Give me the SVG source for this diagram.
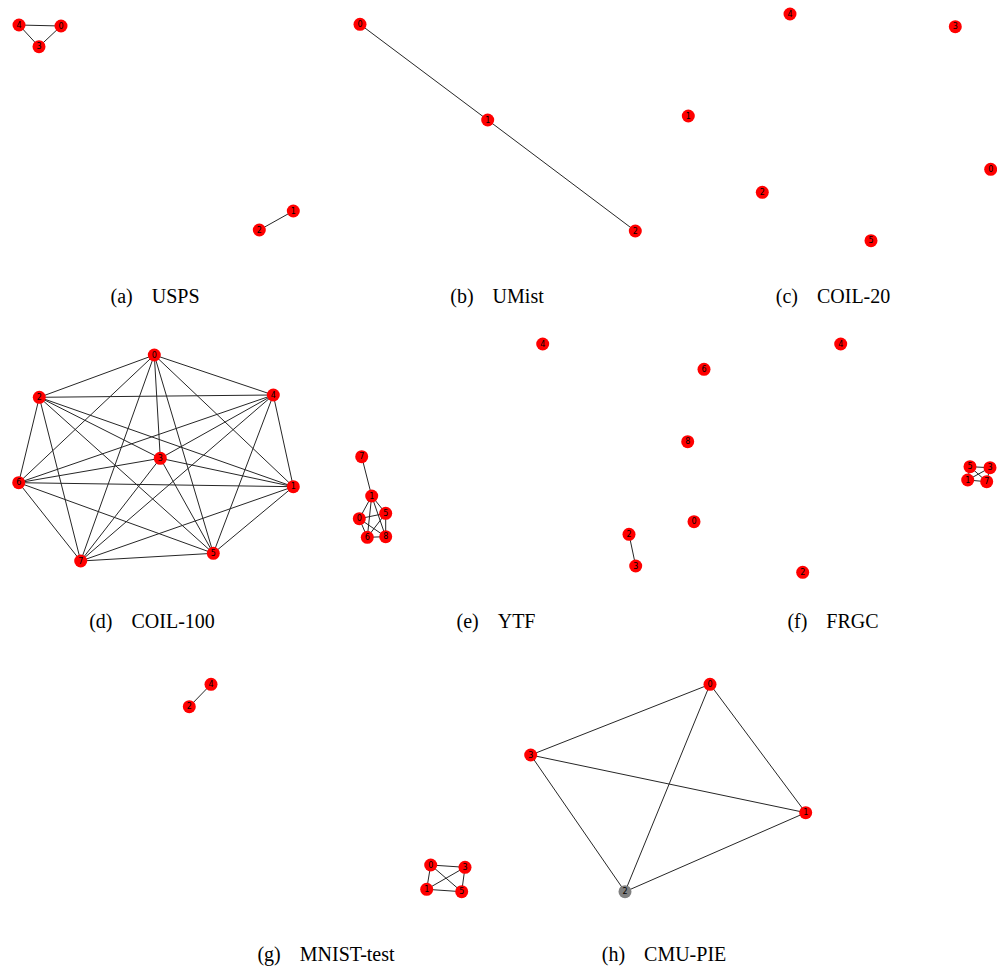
<svg xmlns="http://www.w3.org/2000/svg" width="997" height="969" viewBox="0 0 997 969">
  <style>
    .e { stroke: #262626; stroke-width: 1; fill: none; }
    .n circle { fill: #ff0000; }
    .n.g circle { fill: #808080; }
    .n text { font-family: "DejaVu Sans", sans-serif; font-size: 8px; fill: #000; text-anchor: middle; dominant-baseline: central; }
    .cap { font-family: "Liberation Serif", serif; font-size: 20px; fill: #000; text-anchor: middle; }
  </style>
  <rect width="997" height="969" fill="#fff"/>

  <!-- connectors -->
  <g id="connectors">
    <!-- (a) USPS -->
    <line class="e" x1="19" y1="25" x2="61" y2="26"/>
    <line class="e" x1="19" y1="25" x2="39" y2="46.7"/>
    <line class="e" x1="61" y1="26" x2="39" y2="46.7"/>
    <line class="e" x1="293.3" y1="211" x2="259.3" y2="230"/>
    <!-- (b) UMist -->
    <line class="e" x1="360" y1="24.3" x2="487.7" y2="120"/>
    <line class="e" x1="487.7" y1="120" x2="635.3" y2="231"/>
    <!-- (d) COIL-100: complete graph on 8 nodes -->
    <g id="coil100-edges">
      <line class="e" x1="154.3" y1="355" x2="39.3" y2="397.3"/>
      <line class="e" x1="154.3" y1="355" x2="273.3" y2="395"/>
      <line class="e" x1="154.3" y1="355" x2="160.3" y2="458.3"/>
      <line class="e" x1="154.3" y1="355" x2="18.7" y2="482.7"/>
      <line class="e" x1="154.3" y1="355" x2="293.3" y2="486.7"/>
      <line class="e" x1="154.3" y1="355" x2="213.3" y2="553.3"/>
      <line class="e" x1="154.3" y1="355" x2="80.7" y2="561"/>
      <line class="e" x1="39.3" y1="397.3" x2="273.3" y2="395"/>
      <line class="e" x1="39.3" y1="397.3" x2="160.3" y2="458.3"/>
      <line class="e" x1="39.3" y1="397.3" x2="18.7" y2="482.7"/>
      <line class="e" x1="39.3" y1="397.3" x2="293.3" y2="486.7"/>
      <line class="e" x1="39.3" y1="397.3" x2="213.3" y2="553.3"/>
      <line class="e" x1="39.3" y1="397.3" x2="80.7" y2="561"/>
      <line class="e" x1="273.3" y1="395" x2="160.3" y2="458.3"/>
      <line class="e" x1="273.3" y1="395" x2="18.7" y2="482.7"/>
      <line class="e" x1="273.3" y1="395" x2="293.3" y2="486.7"/>
      <line class="e" x1="273.3" y1="395" x2="213.3" y2="553.3"/>
      <line class="e" x1="273.3" y1="395" x2="80.7" y2="561"/>
      <line class="e" x1="160.3" y1="458.3" x2="18.7" y2="482.7"/>
      <line class="e" x1="160.3" y1="458.3" x2="293.3" y2="486.7"/>
      <line class="e" x1="160.3" y1="458.3" x2="213.3" y2="553.3"/>
      <line class="e" x1="160.3" y1="458.3" x2="80.7" y2="561"/>
      <line class="e" x1="18.7" y1="482.7" x2="293.3" y2="486.7"/>
      <line class="e" x1="18.7" y1="482.7" x2="213.3" y2="553.3"/>
      <line class="e" x1="18.7" y1="482.7" x2="80.7" y2="561"/>
      <line class="e" x1="293.3" y1="486.7" x2="213.3" y2="553.3"/>
      <line class="e" x1="293.3" y1="486.7" x2="80.7" y2="561"/>
      <line class="e" x1="213.3" y1="553.3" x2="80.7" y2="561"/>
    </g>
    <!-- (e) YTF -->
    <line class="e" x1="361.7" y1="456.7" x2="371.7" y2="496"/>
    <line class="e" x1="371.7" y1="496" x2="359.3" y2="518.7"/>
    <line class="e" x1="371.7" y1="496" x2="385.7" y2="513.3"/>
    <line class="e" x1="371.7" y1="496" x2="367.3" y2="537.3"/>
    <line class="e" x1="371.7" y1="496" x2="385.7" y2="536.7"/>
    <line class="e" x1="359.3" y1="518.7" x2="385.7" y2="513.3"/>
    <line class="e" x1="359.3" y1="518.7" x2="367.3" y2="537.3"/>
    <line class="e" x1="359.3" y1="518.7" x2="385.7" y2="536.7"/>
    <line class="e" x1="385.7" y1="513.3" x2="367.3" y2="537.3"/>
    <line class="e" x1="385.7" y1="513.3" x2="385.7" y2="536.7"/>
    <line class="e" x1="367.3" y1="537.3" x2="385.7" y2="536.7"/>
    <line class="e" x1="629" y1="534.3" x2="635.7" y2="566"/>
    <!-- (f) FRGC -->
    <line class="e" x1="970" y1="466.7" x2="990" y2="467.7"/>
    <line class="e" x1="967.7" y1="480" x2="986.7" y2="481.7"/>
    <line class="e" x1="970" y1="466.7" x2="986.7" y2="481.7"/>
    <line class="e" x1="967.7" y1="480" x2="990" y2="467.7"/>
    <line class="e" x1="970" y1="466.7" x2="967.7" y2="480"/>
    <line class="e" x1="990" y1="467.7" x2="986.7" y2="481.7"/>
    <!-- (g) MNIST-test -->
    <line class="e" x1="211" y1="684.3" x2="189.3" y2="706.7"/>
    <line class="e" x1="430.7" y1="865" x2="465" y2="867.3"/>
    <line class="e" x1="430.7" y1="865" x2="426.7" y2="889.3"/>
    <line class="e" x1="430.7" y1="865" x2="461.7" y2="891.7"/>
    <line class="e" x1="465" y1="867.3" x2="426.7" y2="889.3"/>
    <line class="e" x1="465" y1="867.3" x2="461.7" y2="891.7"/>
    <line class="e" x1="426.7" y1="889.3" x2="461.7" y2="891.7"/>
    <!-- (h) CMU-PIE -->
    <line class="e" x1="530.7" y1="755" x2="710" y2="684.3"/>
    <line class="e" x1="710" y1="684.3" x2="805.7" y2="812.7"/>
    <line class="e" x1="710" y1="684.3" x2="625" y2="891.7"/>
    <line class="e" x1="530.7" y1="755" x2="805.7" y2="812.7"/>
    <line class="e" x1="530.7" y1="755" x2="625" y2="891.7"/>
    <line class="e" x1="625" y1="891.7" x2="805.7" y2="812.7"/>
  </g>

  <!-- (a) USPS -->
  <g id="usps">
    <g id="usps-4" class="n"><circle cx="19" cy="25" r="6.5"/><text x="19" y="25">4</text></g>
    <g id="usps-0" class="n"><circle cx="61" cy="26" r="6.5"/><text x="61" y="26">0</text></g>
    <g id="usps-3" class="n"><circle cx="39" cy="46.7" r="6.5"/><text x="39" y="46.7">3</text></g>
    <g id="usps-1" class="n"><circle cx="293.3" cy="211" r="6.5"/><text x="293.3" y="211">1</text></g>
    <g id="usps-2" class="n"><circle cx="259.3" cy="230" r="6.5"/><text x="259.3" y="230">2</text></g>
  </g>

  <!-- (b) UMist -->
  <g id="umist">
    <g id="umist-0" class="n"><circle cx="360" cy="24.3" r="6.5"/><text x="360" y="24.3">0</text></g>
    <g id="umist-1" class="n"><circle cx="487.7" cy="120" r="6.5"/><text x="487.7" y="120">1</text></g>
    <g id="umist-2" class="n"><circle cx="635.3" cy="231" r="6.5"/><text x="635.3" y="231">2</text></g>
  </g>

  <!-- (c) COIL-20 -->
  <g id="coil20">
    <g id="coil20-4" class="n"><circle cx="790" cy="14" r="6.5"/><text x="790" y="14">4</text></g>
    <g id="coil20-3" class="n"><circle cx="955.3" cy="26.7" r="6.5"/><text x="955.3" y="26.7">3</text></g>
    <g id="coil20-1" class="n"><circle cx="688.3" cy="116" r="6.5"/><text x="688.3" y="116">1</text></g>
    <g id="coil20-0" class="n"><circle cx="990.7" cy="169.3" r="6.5"/><text x="990.7" y="169.3">0</text></g>
    <g id="coil20-2" class="n"><circle cx="762.3" cy="192.3" r="6.5"/><text x="762.3" y="192.3">2</text></g>
    <g id="coil20-5" class="n"><circle cx="871" cy="240.7" r="6.5"/><text x="871" y="240.7">5</text></g>
  </g>

  <!-- (d) COIL-100 -->
  <g id="coil100">
    <g id="coil100-0" class="n"><circle cx="154.3" cy="355" r="6.5"/><text x="154.3" y="355">0</text></g>
    <g id="coil100-2" class="n"><circle cx="39.3" cy="397.3" r="6.5"/><text x="39.3" y="397.3">2</text></g>
    <g id="coil100-4" class="n"><circle cx="273.3" cy="395" r="6.5"/><text x="273.3" y="395">4</text></g>
    <g id="coil100-3" class="n"><circle cx="160.3" cy="458.3" r="6.5"/><text x="160.3" y="458.3">3</text></g>
    <g id="coil100-6" class="n"><circle cx="18.7" cy="482.7" r="6.5"/><text x="18.7" y="482.7">6</text></g>
    <g id="coil100-1" class="n"><circle cx="293.3" cy="486.7" r="6.5"/><text x="293.3" y="486.7">1</text></g>
    <g id="coil100-5" class="n"><circle cx="213.3" cy="553.3" r="6.5"/><text x="213.3" y="553.3">5</text></g>
    <g id="coil100-7" class="n"><circle cx="80.7" cy="561" r="6.5"/><text x="80.7" y="561">7</text></g>
  </g>

  <!-- (e) YTF -->
  <g id="ytf">
    <g id="ytf-7" class="n"><circle cx="361.7" cy="456.7" r="6.5"/><text x="361.7" y="456.7">7</text></g>
    <g id="ytf-1" class="n"><circle cx="371.7" cy="496" r="6.5"/><text x="371.7" y="496">1</text></g>
    <g id="ytf-0" class="n"><circle cx="359.3" cy="518.7" r="6.5"/><text x="359.3" y="518.7">0</text></g>
    <g id="ytf-5" class="n"><circle cx="385.7" cy="513.3" r="6.5"/><text x="385.7" y="513.3">5</text></g>
    <g id="ytf-6" class="n"><circle cx="367.3" cy="537.3" r="6.5"/><text x="367.3" y="537.3">6</text></g>
    <g id="ytf-8" class="n"><circle cx="385.7" cy="536.7" r="6.5"/><text x="385.7" y="536.7">8</text></g>
    <g id="ytf-4" class="n"><circle cx="542.7" cy="344" r="6.5"/><text x="542.7" y="344">4</text></g>
    <g id="ytf-2" class="n"><circle cx="629" cy="534.3" r="6.5"/><text x="629" y="534.3">2</text></g>
    <g id="ytf-3" class="n"><circle cx="635.7" cy="566" r="6.5"/><text x="635.7" y="566">3</text></g>
  </g>

  <!-- (f) FRGC -->
  <g id="frgc">
    <g id="frgc-6" class="n"><circle cx="704" cy="369.3" r="6.5"/><text x="704" y="369.3">6</text></g>
    <g id="frgc-8" class="n"><circle cx="687.7" cy="441.7" r="6.5"/><text x="687.7" y="441.7">8</text></g>
    <g id="frgc-0" class="n"><circle cx="694" cy="521.7" r="6.5"/><text x="694" y="521.7">0</text></g>
    <g id="frgc-4" class="n"><circle cx="840.7" cy="344" r="6.5"/><text x="840.7" y="344">4</text></g>
    <g id="frgc-2" class="n"><circle cx="802.7" cy="572.3" r="6.5"/><text x="802.7" y="572.3">2</text></g>
    <g id="frgc-5" class="n"><circle cx="970" cy="466.7" r="6.5"/><text x="970" y="466.7">5</text></g>
    <g id="frgc-3" class="n"><circle cx="990" cy="467.7" r="6.5"/><text x="990" y="467.7">3</text></g>
    <g id="frgc-1" class="n"><circle cx="967.7" cy="480" r="6.5"/><text x="967.7" y="480">1</text></g>
    <g id="frgc-7" class="n"><circle cx="986.7" cy="481.7" r="6.5"/><text x="986.7" y="481.7">7</text></g>
  </g>

  <!-- (g) MNIST-test -->
  <g id="mnist">
    <g id="mnist-4" class="n"><circle cx="211" cy="684.3" r="6.5"/><text x="211" y="684.3">4</text></g>
    <g id="mnist-2" class="n"><circle cx="189.3" cy="706.7" r="6.5"/><text x="189.3" y="706.7">2</text></g>
    <g id="mnist-0" class="n"><circle cx="430.7" cy="865" r="6.5"/><text x="430.7" y="865">0</text></g>
    <g id="mnist-3" class="n"><circle cx="465" cy="867.3" r="6.5"/><text x="465" y="867.3">3</text></g>
    <g id="mnist-1" class="n"><circle cx="426.7" cy="889.3" r="6.5"/><text x="426.7" y="889.3">1</text></g>
    <g id="mnist-5" class="n"><circle cx="461.7" cy="891.7" r="6.5"/><text x="461.7" y="891.7">5</text></g>
  </g>

  <!-- (h) CMU-PIE -->
  <g id="cmupie">
    <g id="cmupie-0" class="n"><circle cx="710" cy="684.3" r="6.5"/><text x="710" y="684.3">0</text></g>
    <g id="cmupie-3" class="n"><circle cx="530.7" cy="755" r="6.5"/><text x="530.7" y="755">3</text></g>
    <g id="cmupie-1" class="n"><circle cx="805.7" cy="812.7" r="6.5"/><text x="805.7" y="812.7">1</text></g>
    <g id="cmupie-2" class="n g"><circle cx="625" cy="891.7" r="6.5"/><text x="625" y="891.7">2</text></g>
  </g>

  <!-- captions: sub-figure letter, a quad gap, then the dataset name -->
  <g id="captions">
    <text class="cap" x="155" y="303">(a)<tspan dx="19">USPS</tspan></text>
    <text class="cap" x="497" y="303">(b)<tspan dx="19">UMist</tspan></text>
    <text class="cap" x="833" y="303">(c)<tspan dx="19">COIL-20</tspan></text>
    <text class="cap" x="152" y="628">(d)<tspan dx="19">COIL-100</tspan></text>
    <text class="cap" x="496" y="628">(e)<tspan dx="19">YTF</tspan></text>
    <text class="cap" x="833" y="628">(f)<tspan dx="19">FRGC</tspan></text>
    <text class="cap" x="326" y="961">(g)<tspan dx="19">MNIST-test</tspan></text>
    <text class="cap" x="664" y="961">(h)<tspan dx="19">CMU-PIE</tspan></text>
  </g>
</svg>
